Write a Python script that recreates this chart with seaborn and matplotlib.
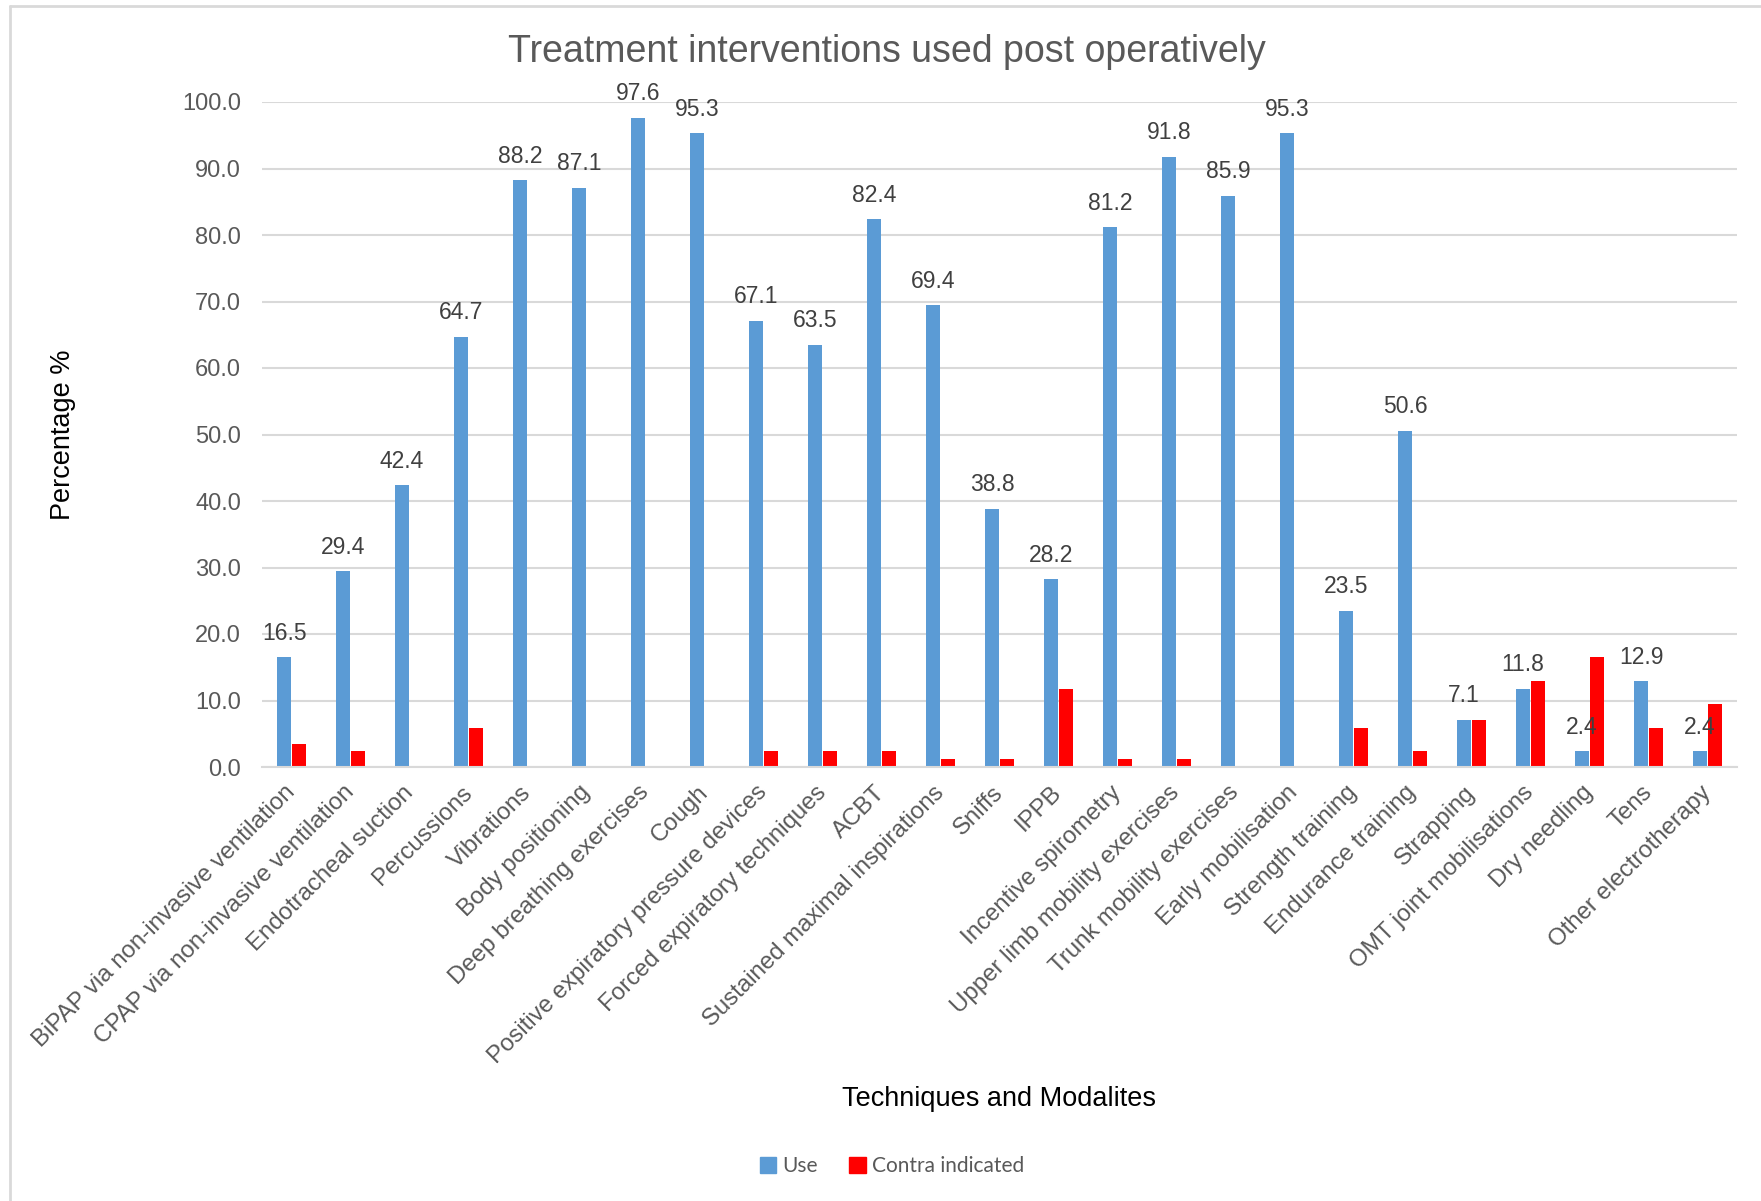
import pandas as pd
import matplotlib.pyplot as plt
import seaborn as sns
from matplotlib.lines import Line2D

# ---- Dados ----
tecnicas = [
    "BiPAP via non-invasive ventilation", "CPAP via non-invasive ventilation",
    "Endotracheal suction", "Percussions", "Vibrations", "Body positioning",
    "Deep breathing exercises", "Cough", "Positive expiratory pressure devices",
    "Forced expiratory techniques", "ACBT", "Sustained maximal inspirations",
    "Sniffs", "IPPB", "Incentive spirometry", "Upper limb mobility exercises",
    "Trunk mobility exercises", "Early mobilisation", "Strength training",
    "Endurance training", "Strapping", "OMT joint mobilisations", "Dry needling",
    "Tens", "Other electrotherapy",
]
uso = [16.5, 29.4, 42.4, 64.7, 88.2, 87.1, 97.6, 95.3, 67.1, 63.5, 82.4, 69.4,
       38.8, 28.2, 81.2, 91.8, 85.9, 95.3, 23.5, 50.6, 7.1, 11.8, 2.4, 12.9, 2.4]
contra = [3.5, 2.4, 0.0, 5.9, 0.0, 0.0, 0.0, 0.0, 2.4, 2.4, 2.4, 1.2,
          1.2, 11.8, 1.2, 1.2, 0.0, 0.0, 5.9, 2.4, 7.1, 12.9, 16.5, 5.9, 9.4]
series = ["Use", "Contra indicated"]
cores = ["#5B9BD5", "#FF0000"]

df = pd.DataFrame({
    "tecnica": tecnicas * 2,
    "valor": uso + contra,
    "serie": [series[0]] * len(tecnicas) + [series[1]] * len(tecnicas),
})

sns.set_theme(style="white")
plt.rcParams["font.family"] = ["Liberation Sans", "DejaVu Sans"]

W, H = 1761, 1201
fig = plt.figure(figsize=(W / 100, H / 100), dpi=100)
ax = fig.add_axes([262 / W, 1 - 767 / H, (1737 - 262) / W, (767 - 102) / H])

sns.barplot(data=df, x="tecnica", y="valor", hue="serie", palette=cores,
            saturation=1, width=0.5, gap=0.1, linewidth=0, ax=ax)

# ---- Eixos ----
ax.set_ylim(0, 100)
ax.set_xlim(-0.5, len(tecnicas) - 0.5)
ax.set_yticks(range(0, 101, 10))
ax.set_yticklabels([f"{v:.1f}" for v in range(0, 101, 10)])
ax.yaxis.grid(True, color="#D9D9D9", linewidth=1.5)
ax.set_axisbelow(True)
for lado in ["top", "right", "left"]:
    ax.spines[lado].set_visible(False)
ax.spines["bottom"].set_color("#D9D9D9")
ax.spines["bottom"].set_linewidth(1.5)
ax.tick_params(axis="y", length=0, pad=15, labelsize=17, labelcolor="#595959")
ax.tick_params(axis="x", length=0, pad=16, labelsize=17.3, labelcolor="#595959")
plt.setp(ax.get_xticklabels(), rotation=45, ha="right", va="center",
         rotation_mode="anchor")

# rótulos só na série "Use"
ax.bar_label(ax.containers[0], fmt="%.1f", padding=9, fontsize=16.5, color="#404040")

ax.set_xlabel("Techniques and Modalites", fontsize=19.5, color="black")
ax.xaxis.set_label_coords(0.5, (767 - 1099) / (767 - 102))
ax.xaxis.label.set_va("center")
ax.set_ylabel("Percentage %", fontsize=19.5, color="black")
ax.yaxis.set_label_coords((63 - 262) / (1737 - 262), 0.5)
ax.yaxis.label.set_va("center")

# ---- Título e legenda ----
fig.text(887 / W, 1 - 52 / H, "Treatment interventions used post operatively",
         ha="center", va="center", fontsize=27, color="#595959")

handles = [plt.Rectangle((0, 0), 1, 1, color=c) for c in cores]
ax.legend(handles, series, loc="center", bbox_to_anchor=(892 / W, 1 - 1166 / H),
          bbox_transform=fig.transFigure, ncol=2, frameon=False,
          prop={"family": "Lato", "size": 15}, labelcolor="#595959",
          handlelength=0.8, handleheight=0.8, handletextpad=0.3, columnspacing=1.5)

# borda do gráfico
fig.add_artist(Line2D([10 / W, 10 / W], [0, 1 - 6 / H], color="#D9D9D9", lw=2))
fig.add_artist(Line2D([10 / W, 1], [1 - 6 / H, 1 - 6 / H], color="#D9D9D9", lw=2))

fig.savefig("out.png", dpi=100, facecolor="white")
